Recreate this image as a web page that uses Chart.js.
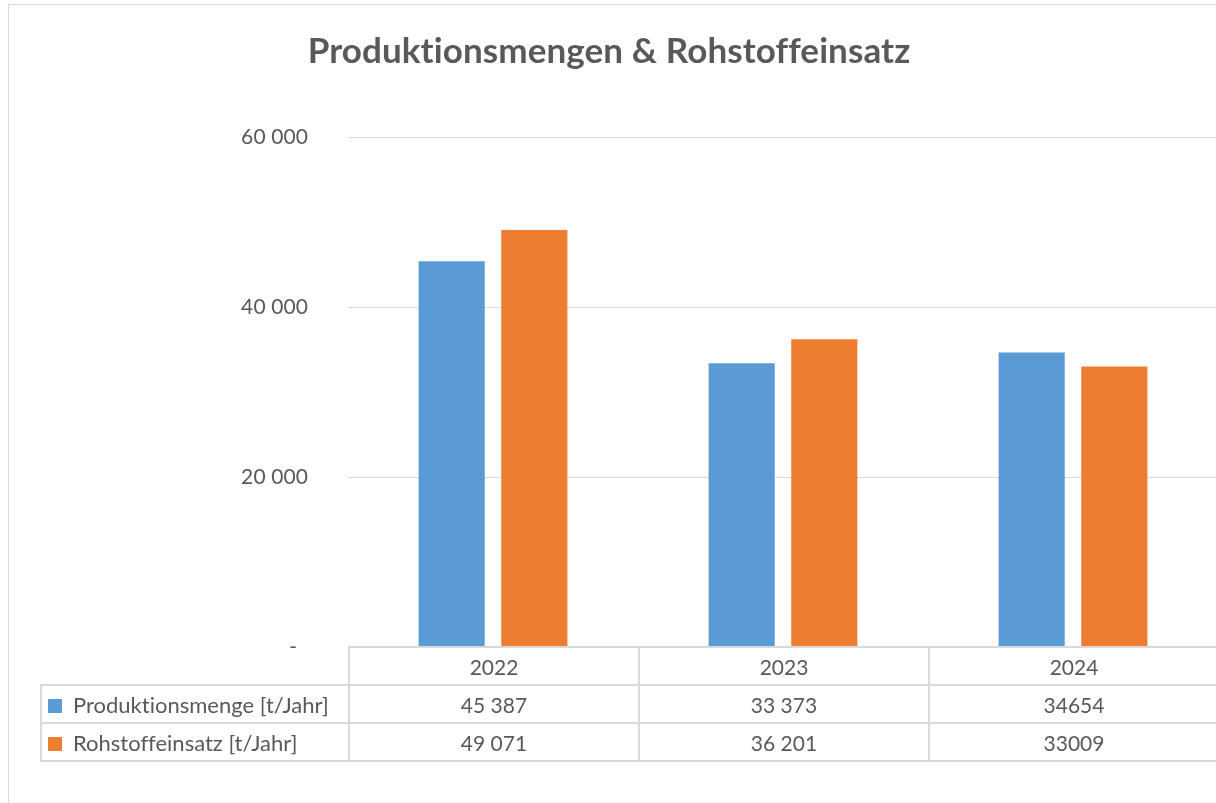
<!DOCTYPE html>
<html>
<head>
<meta charset="utf-8">
<script src="https://cdn.jsdelivr.net/npm/chart.js@4"></script>
<style>
  html, body { margin: 0; padding: 0; background: #fff; overflow: hidden; }
  #wrap { position: relative; width: 1216px; height: 803px; overflow: hidden; }
  #frame { position: absolute; left: 8px; top: 4px; width: 1300px; height: 900px;
           border-top: 1px solid #d9d9d9; border-left: 1px solid #d9d9d9; }
  #chartBox { position: absolute; left: 0; top: 0; width: 1230px; height: 803px; }
  #dataTable { position: absolute; border-collapse: collapse; table-layout: fixed;
               font-family: Lato, sans-serif; font-size: 21px; color: #595959;
               font-variant-ligatures: none; }
  #dataTable td { border: 2px solid #d9d9d9; text-align: center; padding: 0; height: 36px; white-space: nowrap; }
  #dataTable td.blank { border: none; }
  #dataTable td.name { text-align: left; padding-left: 6px; font-size: 22px; }
  .sw { display: inline-block; width: 14px; height: 14px; margin-right: 11px; vertical-align: 0px; }
</style>
</head>
<body>
<div id="wrap">
  <div id="frame"></div>
  <div id="chartBox"><canvas id="barChart" width="1230" height="803"></canvas></div>
  <table id="dataTable"></table>
</div>
<script>
// daten
const years = ['2022', '2023', '2024'];
const produktion = [45387, 33373, 34654];
const rohstoff = [49071, 36201, 33009];
// so wie in der tabelle geschrieben
const produktionText = ['45 387', '33 373', '34654'];
const rohstoffText = ['49 071', '36 201', '33009'];
const seriesNames = ['Produktionsmenge [t/Jahr]', 'Rohstoffeinsatz [t/Jahr]'];
const colors = ['#5b9bd5', '#ed7d31'];

Chart.defaults.font.family = 'Lato, sans-serif';
Chart.defaults.color = '#595959';

function fmt(v) {
    if (v === 0) return '-  ';
    return String(v).replace(/\B(?=(\d{3})+(?!\d))/g, ' ');
}

// keine "ti"-ligatur im titel
const noLigatures = {
    id: 'noLigatures',
    beforeDraw(chart) {
        if ('letterSpacing' in chart.ctx) chart.ctx.letterSpacing = '0.1px';
    }
};

const bar = document.getElementById('barChart');

const chart = new Chart(bar, {
    type: 'bar',
    data: {
        labels: years,
        datasets: [{
            label: seriesNames[0],
            data: produktion,
            backgroundColor: colors[0],
            categoryPercentage: 0.57,
            barPercentage: 0.8
        }, {
            label: seriesNames[1],
            data: rohstoff,
            backgroundColor: colors[1],
            categoryPercentage: 0.57,
            barPercentage: 0.8
        }]
    },
    options: {
        responsive: false,
        animation: false,
        layout: { padding: { left: 0, right: 12, top: 0, bottom: 0 } },
        plugins: {
            legend: { display: false },
            tooltip: { enabled: false },
            title: {
                display: true,
                text: 'Produktionsmengen & Rohstoffeinsatz',
                color: '#595959',
                font: { size: 35, weight: 'bold' },
                padding: { top: 31, bottom: 64 }
            }
        },
        scales: {
            x: {
                ticks: { display: false },
                grid: { display: false },
                border: { display: false },
                afterFit: (s) => { s.height = 156; }
            },
            y: {
                min: 0,
                max: 60000,
                ticks: { stepSize: 20000, padding: 40, font: { size: 21 }, color: '#595959', callback: (v) => fmt(v) },
                grid: { color: '#d9d9d9', lineWidth: 1, drawTicks: false },
                border: { display: false },
                afterFit: (s) => { s.width = 348; }
            }
        }
    },
    plugins: [noLigatures]
});

// datentabelle unter der grafik
const area = chart.chartArea;
const xs = chart.scales.x;
const catW = xs.width / years.length;
const table = document.getElementById('dataTable');
table.style.left = '40px';
table.style.top = (area.bottom - 1) + 'px';

let html = '<colgroup><col style="width:' + (area.left - 40) + 'px">';
for (let i = 0; i < years.length; i++) html += '<col style="width:' + catW + 'px">';
html += '</colgroup>';
html += '<tr><td class="blank"></td>' + years.map(y => '<td>' + y + '</td>').join('') + '</tr>';
const texts = [produktionText, rohstoffText];
for (let s = 0; s < seriesNames.length; s++) {
    html += '<tr><td class="name"><span class="sw" style="background:' + colors[s] + '"></span>' + seriesNames[s] + '</td>';
    html += texts[s].map(t => '<td>' + t + '</td>').join('') + '</tr>';
}
table.innerHTML = html;
table.style.width = (area.left - 40 + catW * years.length) + 'px';
</script>
</body>
</html>
